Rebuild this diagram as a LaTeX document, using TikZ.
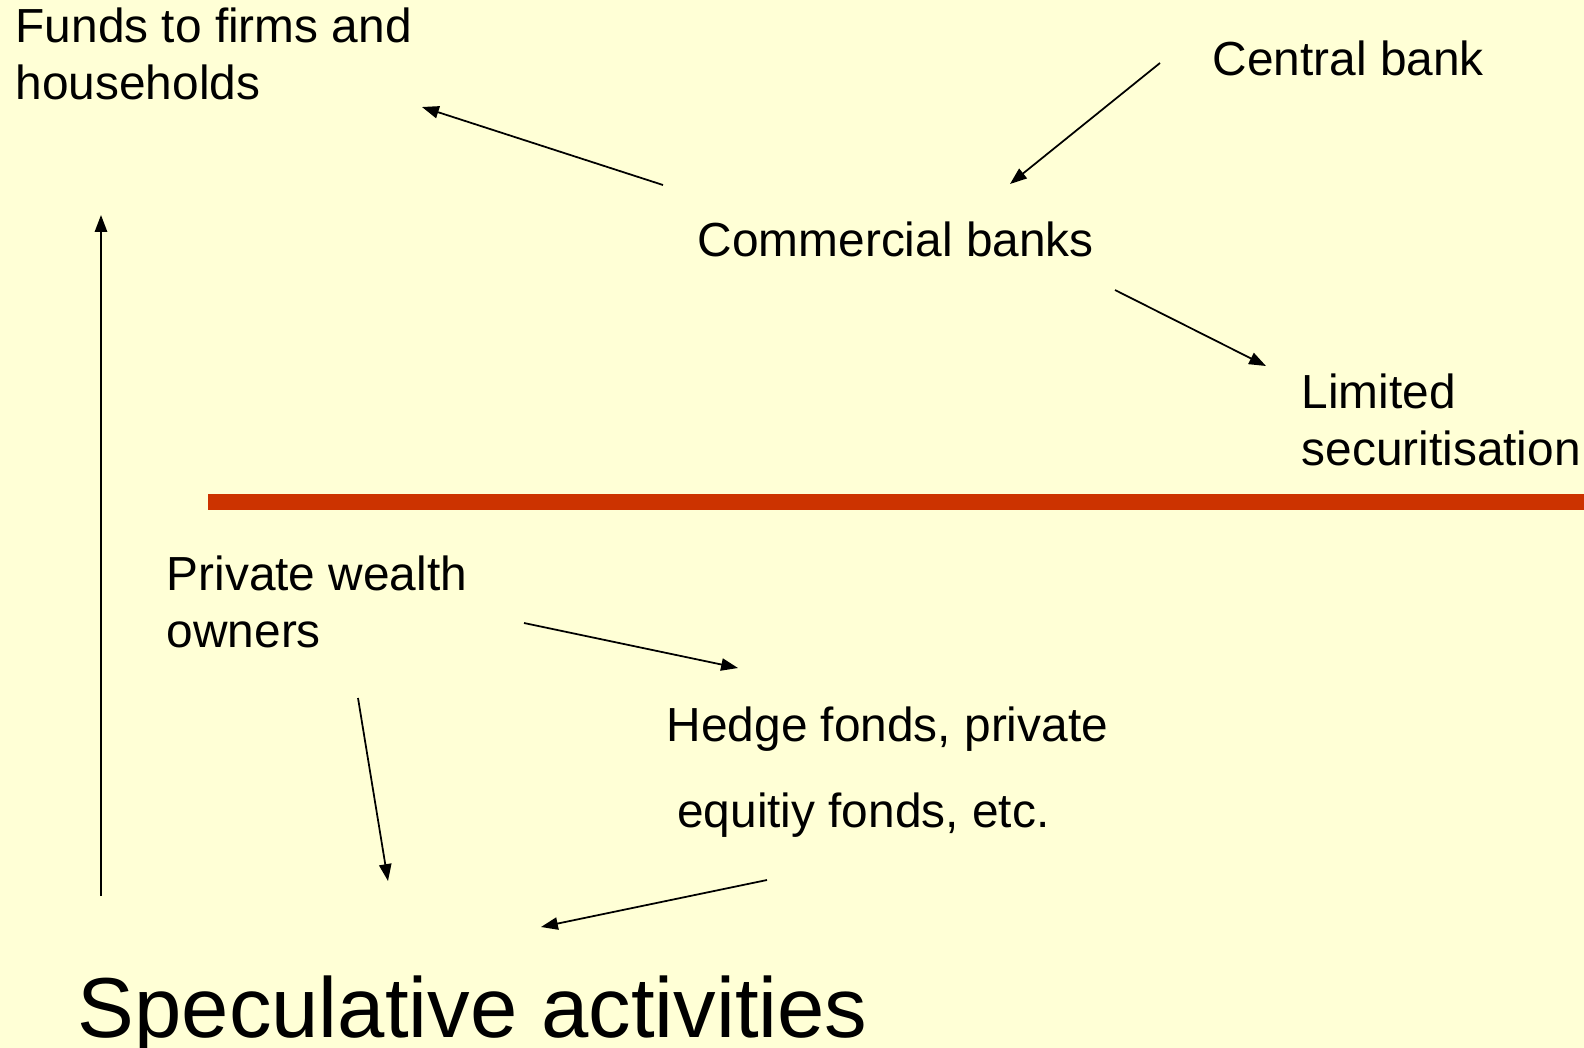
\documentclass[tikz,border=0pt]{standalone}
\usepackage{fontspec}
\setmainfont{Liberation Sans}
\usetikzlibrary{arrows.meta}
\definecolor{slidebg}{RGB}{255,255,214}
\definecolor{divider}{RGB}{204,51,0}

\begin{document}
\begin{tikzpicture}[x=0.01cm,y=-0.01cm,
    lbl/.style={anchor=base west,inner sep=0pt,align=left,font=\fontsize{13.6}{16}\selectfont},
    flow/.style={-{Triangle[length=4.8pt,width=3.5pt]},line width=0.5pt}]
  \fill[slidebg] (0,0) rectangle (1584,1048);
  \useasboundingbox (0,0) rectangle (1584,1048);

  \node[lbl] (funds) at (15,99) {Funds to firms and\\households};
  \node[lbl] (central) at (1212,75) {Central bank};
  \node[lbl] (banks) at (697,256) {Commercial banks};
  \node[lbl] (limited) at (1301,465) {Limited\\securitisation};
  \node[lbl] (wealth) at (166,647) {Private wealth\\owners};
  \node[lbl] (hedge) at (666,827) {Hedge fonds, private\\[8.4pt]\hspace*{0.22em}equitiy fonds, etc.};
  \node[lbl,font=\fontsize{24.2}{28}\selectfont] (spec) at (77,1037) {Speculative activities};

  \draw[divider,line width=4.6pt] (208,502) -- (1584,502);

  \coordinate (banks-out) at (663,185);
  \coordinate (funds-in) at (422,107);
  \coordinate (central-out) at (1160,63);
  \coordinate (banks-in) at (1010,184);
  \coordinate (banks-down) at (1115,290);
  \coordinate (limited-in) at (1266,366);
  \coordinate (spec-up) at (101,896);
  \coordinate (funds-below) at (101,215);
  \coordinate (wealth-right) at (524,623);
  \coordinate (hedge-in) at (738,668);
  \coordinate (wealth-down) at (358,698);
  \coordinate (spec-left) at (388,881);
  \coordinate (hedge-out) at (767,880);
  \coordinate (spec-right) at (541,927);

  \draw[flow] (banks-out) -- (funds-in);
  \draw[flow] (central-out) -- (banks-in);
  \draw[flow] (banks-down) -- (limited-in);
  \draw[flow] (spec-up) -- (funds-below);
  \draw[flow] (wealth-right) -- (hedge-in);
  \draw[flow] (wealth-down) -- (spec-left);
  \draw[flow] (hedge-out) -- (spec-right);
\end{tikzpicture}
\end{document}
